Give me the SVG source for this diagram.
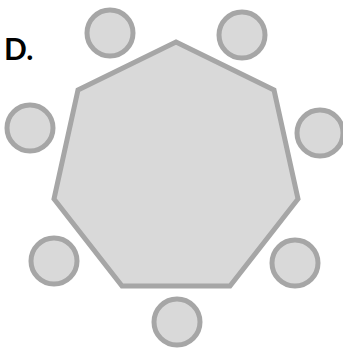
<svg xmlns="http://www.w3.org/2000/svg" width="343" height="349" viewBox="0 0 343 349">
<style>
.shape{fill:#d9d9d9;stroke:#a6a6a6;stroke-width:5}
.lbl{font-family:"Lato","Liberation Sans",sans-serif;font-weight:bold;font-size:30px;fill:#000}
</style>
<rect width="343" height="349" fill="#fff"/>
<text class="lbl" x="4" y="60">D.</text>
<g id="heptagon"><polygon class="shape" points="176,42 274,90 298,199 230,286 122,286 54,199 78,90" stroke-linejoin="miter"/></g>
<g id="c1"><circle class="shape" cx="110" cy="33" r="23"/></g>
<g id="c2"><circle class="shape" cx="242" cy="35" r="23"/></g>
<g id="c3"><circle class="shape" cx="320" cy="133" r="23"/></g>
<g id="c4"><circle class="shape" cx="295" cy="263" r="23"/></g>
<g id="c5"><circle class="shape" cx="177" cy="322" r="23"/></g>
<g id="c6"><circle class="shape" cx="54" cy="261" r="23"/></g>
<g id="c7"><circle class="shape" cx="30" cy="128" r="23"/></g>
<g id="connectors"/>
</svg>
